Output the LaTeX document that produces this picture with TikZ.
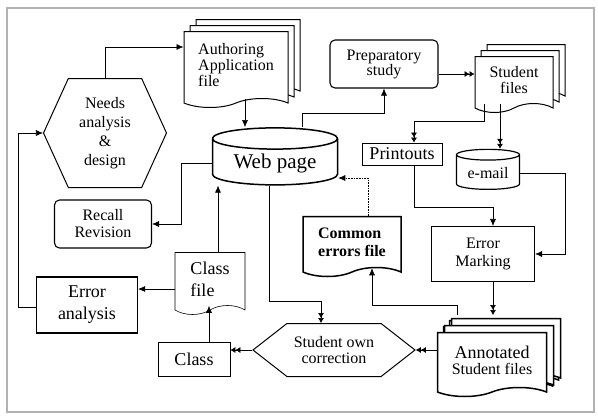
\documentclass[tikz,border=0pt]{standalone}
\usepackage{fontspec}
\setmainfont{Liberation Serif}
\usetikzlibrary{shapes.symbols,shapes.geometric,shadows,arrows.meta}

\begin{document}
\begin{tikzpicture}[%
		x=1pt, y=-1pt,
		font=\fontsize{16}{16}\selectfont,
		every node/.style={align=center, inner sep=1pt, fill=white},
		box/.style={draw, rectangle, line width=1.1pt},
		rbox/.style={draw, rectangle, rounded corners=5pt, line width=1.1pt},
		doc/.style={draw, tape, tape bend top=none, tape bend bottom=in and out, tape bend height=9pt, line width=1pt},
		docs/.style={doc, double copy shadow={shadow xshift=6pt, shadow yshift=6pt}},
		db/.style={draw, cylinder, shape border rotate=90, aspect=0.25, line width=1.2pt},
		hexa/.style={draw, signal, signal to=west and east, line width=1pt},
		arr/.style={-{Latex[length=7pt,width=6pt]}, line width=0.6pt},
		dbl/.style={-{Latex[length=5pt,width=6pt]Latex[length=5pt,width=6pt]}, line width=0.6pt}
	]
	\useasboundingbox (0,0) rectangle (598,418);
	\draw[gray!60, line width=2pt] (7,8) rectangle (594,412);

	% documents
	\node (authoring) [docs, align=left, minimum width=104pt, minimum height=76pt] at (236,65) {%
		Authoring\\Application\\file};
	\node (students) [docs, minimum width=78pt, minimum height=56pt] at (514,80) {%
		Student\\files};
	\node (annotated) [docs, line width=1.5pt, minimum width=109pt, minimum height=64pt,
		double copy shadow={shadow xshift=7pt, shadow yshift=7pt}] at (492,360) {%
		{\fontsize{18}{18}\selectfont Annotated}\\Student files};
	\node (common) [doc, line width=1.5pt, align=left, minimum width=98pt, minimum height=60pt,
		font=\bfseries\fontsize{16}{18}\selectfont] at (352,242) {%
		Common\\errors file};
	\node (classfile) [doc, line width=0.6pt, align=left, minimum width=70pt, minimum height=62pt,
		font=\fontsize{18}{22}\selectfont] at (210,279) {%
		Class\\file};

	% stores
	\node (webpage) [db, line width=1.5pt, minimum width=125pt, minimum height=57pt,
		font=\fontsize{21}{21}\selectfont] at (275,163) {Web page};
	\node (email) [db, minimum width=63pt, minimum height=40pt] at (488,173) {e-mail};

	% processes
	\node (needs) [hexa, signal pointer angle=131, minimum width=123pt, minimum height=109pt,
		font=\fontsize{16}{19}\selectfont] at (105,133) {%
		Needs\\analysis\\\&\\design};
	\node (studown) [hexa, signal pointer angle=76, minimum width=162pt, minimum height=53pt] at (334,350) {%
		Student own\\correction};
	\node (prep) [rbox, minimum width=108pt, minimum height=48pt, font=\fontsize{16}{15}\selectfont] at (384,64) {%
		Preparatory\\study};
	\node (recall) [rbox, minimum width=97pt, minimum height=48pt, font=\fontsize{16}{17}\selectfont] at (103,224) {%
		Recall\\Revision};
	\node (printouts) [box, line width=0.8pt, minimum width=80pt, minimum height=22pt,
		font=\fontsize{18}{18}\selectfont] at (402,154) {Printouts};
	\node (marking) [box, minimum width=103pt, minimum height=55pt, font=\fontsize{16}{18}\selectfont] at (483,254) {%
		Error\\Marking};
	\node (erran) [box, line width=1.3pt, minimum width=101pt, minimum height=56pt,
		font=\fontsize{18}{22}\selectfont] at (87,305) {%
		Error\\analysis};
	\node (klass) [box, line width=0.8pt, minimum width=72pt, minimum height=34pt,
		font=\fontsize{18}{18}\selectfont] at (194,359) {Class};

	\coordinate (annback) at (457,315);

	% connectors
	\draw[arr] (needs.north) |- (authoring.west |- 0,47);
	\draw[arr] (authoring.south -| 245,0) -- (webpage.north -| 245,0);
	\draw[arr] (webpage.north -| 302,0) |- ([yshift=-25pt]prep.south) -- (prep.south);
	\draw[dbl] (prep.east |- 0,74) -- (students.west |- 0,74);
	\draw[dbl] (students.south -| 484,0) -- ++(0,17) -| (printouts.north -| 414,0);
	\draw[dbl] (students.south -| 500,0) -- (email.north -| 500,0);
	\draw[arr] (printouts.south -| 414,0) -- ++(0,42) -| (marking.north -| 493,0);
	\draw[arr] (email.east) -- ++(45,0) |- (marking.east);
	\draw[dbl] (marking.south -| 493,0) -- (annback -| 493,0);
	\draw[arr] (annback) -- ++(0,-10) -| (common.south -| 372,0);
	\draw[arr, densely dotted] (common.north -| 368,0) |- (webpage.east |- 0,178);
	\draw[dbl] (webpage.south -| 269,0) -- ++(0,116) -| (studown.north -| 321,0);
	\draw[dbl] (annotated.west |- studown.east) -- (studown.east);
	\draw[dbl] (studown.west) -- (klass.east |- studown.west);
	\draw[arr] (klass.north -| 209,0) -- (classfile.south -| 209,0);
	\draw[arr] (classfile.north -| 218,0) -- (webpage.south -| 218,0);
	\draw[arr] (classfile.west |- 0,289) -- (erran.east |- 0,289);
	\draw[arr] (erran.west |- 0,307) -- ++(-18,0) |- (needs.west);
	\draw[arr] (webpage.west) -- ++(-30,0) |- (recall.east);
\end{tikzpicture}
\end{document}
